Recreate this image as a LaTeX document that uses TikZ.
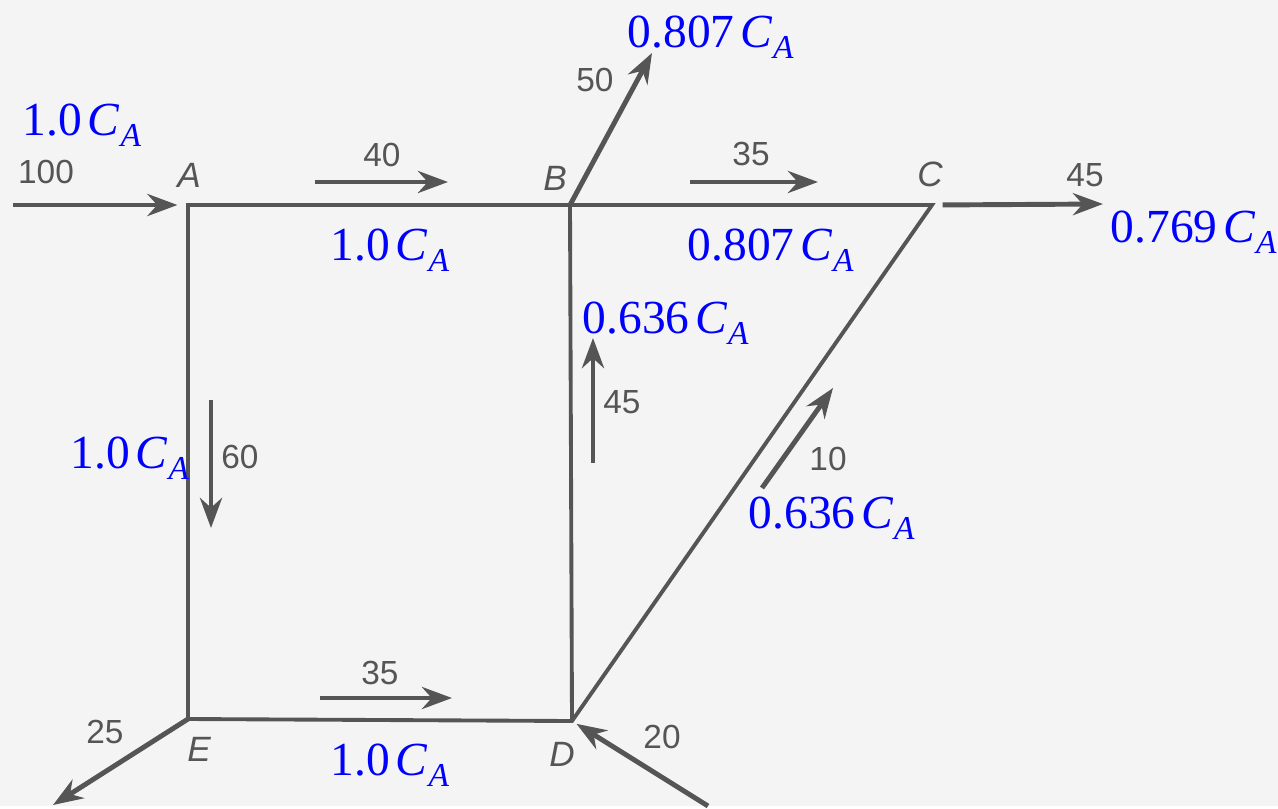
\documentclass[tikz,border=0pt]{standalone}
\usepackage{fontspec}
\setmainfont{Liberation Serif}
\setsansfont{Liberation Sans}
\usepackage{tikz}
\usetikzlibrary{arrows.meta}
\definecolor{paper}{HTML}{F4F4F4}
\definecolor{ink}{HTML}{555555}
\definecolor{concblue}{HTML}{0000FF}
\newcommand{\concA}[1]{#1\hspace{0.12em}\textit{C}\kern0.2pt\raisebox{-3.2pt}{\fontsize{9.5}{10}\selectfont\textit{A}}}
\tikzset{
  pipe/.style={draw=ink,line width=1.1pt},
  flow/.style={-{Stealth[length=3mm,width=2.2mm]},draw=ink,line width=1.4pt},
  rate/.style={font=\sffamily\fontsize{9.5}{11}\selectfont,text=ink,inner sep=0pt},
  junction/.style={font=\sffamily\itshape\fontsize{10}{11}\selectfont,text=ink,inner sep=0pt},
  conclabel/.style={font=\fontsize{13.5}{16}\selectfont,text=concblue,inner sep=0pt,anchor=base west}
}

\begin{document}
\begin{tikzpicture}[x=0.01cm,y=-0.01cm]
    \fill[paper] (0,0) rectangle (1278,806);
    % junctions of the network
    \coordinate (A) at (188,205);
    \coordinate (B) at (570,205);
    \coordinate (C) at (932,205);
    \coordinate (D) at (572,721);
    \coordinate (E) at (188,719);
    % open ends
    \coordinate (feed) at (13,205);
    \coordinate (in20) at (708,806);
    \coordinate (out50) at (652,53);
    \coordinate (out45) at (1103,204);
    \coordinate (out25) at (53,805);
    \draw[pipe] (A) -- (B) -- (C) -- (D) -- (E) -- cycle;
    \draw[pipe] (B) -- (D);
    \draw[flow,shorten >=3pt] (feed) -- (A);
    \draw[flow,shorten >=1.5pt] (in20) -- (D);
    \draw[flow] (B) -- (out50);
    \draw[flow,shorten <=3pt] (C) -- (out45);
    \draw[flow] (E) -- (out25);
    % flow direction beside the pipes
    \coordinate (s40) at (315,182);  \coordinate (t40) at (448,182);
    \coordinate (s35) at (690,182);  \coordinate (t35) at (818,182);
    \coordinate (s60) at (211,400);  \coordinate (t60) at (211,528);
    \coordinate (s45) at (593,463);  \coordinate (t45) at (593,338);
    \coordinate (s10) at (762,488);  \coordinate (t10) at (833,388);
    \coordinate (sED) at (320,698);  \coordinate (tED) at (452,698);
    \foreach \a/\b in {s40/t40,s35/t35,s60/t60,s45/t45,s10/t10,sED/tED}{\draw[flow] (\a) -- (\b);}
    % flow rates
    \node[rate] (q100) at (46,172) {100};
    \node[rate] (q40) at (382,155) {40};
    \node[rate] (q50) at (595,80) {50};
    \node[rate] (q35) at (751,154) {35};
    \node[rate] (q45out) at (1085,175) {45};
    \node[rate] (q60) at (240,457) {60};
    \node[rate] (q45) at (622,402) {45};
    \node[rate] (q10) at (828,459) {10};
    \node[rate] (q35b) at (380,673) {35};
    \node[rate] (q25) at (105,732) {25};
    \node[rate] (q20) at (662,737) {20};
    % junction names
    \node[junction] (lA) at (189,175) {A};
    \node[junction] (lB) at (555,178) {B};
    \node[junction] (lC) at (930,174) {C};
    \node[junction] (lD) at (562,754) {D};
    \node[junction] (lE) at (199,749) {E};
    % concentrations
    \node[conclabel] (cfeed) at (22,135) {\concA{1.0}};
    \node[conclabel] (cout50) at (627,47) {\concA{0.807}};
    \node[conclabel] (cAB) at (330,260) {\concA{1.0}};
    \node[conclabel] (cBC) at (687,260) {\concA{0.807}};
    \node[conclabel] (cout45) at (1110,242) {\concA{0.769}};
    \node[conclabel] (cDB) at (582,333) {\concA{0.636}};
    \node[conclabel] (cDC) at (748,528) {\concA{0.636}};
    \node[conclabel] (cAE) at (70,468) {\concA{1.0}};
    \node[conclabel] (cED) at (330,775) {\concA{1.0}};
  \end{tikzpicture}
\end{document}
